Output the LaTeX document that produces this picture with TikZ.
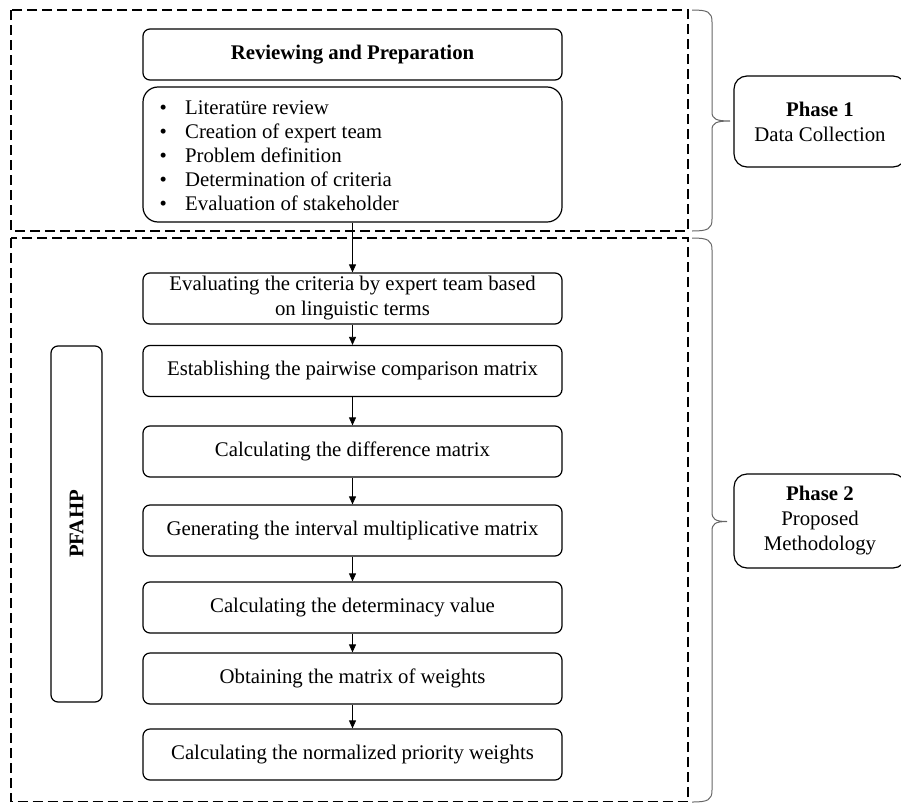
\documentclass[tikz,border=0pt]{standalone}
\usepackage{fontspec}
\setmainfont{Liberation Serif}
\usetikzlibrary{arrows.meta}
\begin{document}
\begin{tikzpicture}[x=1pt,y=-1pt, font=\fontsize{20.8}{25}\selectfont,
  box/.style={draw, line width=1.2pt, rounded corners=7pt, minimum width=419pt, minimum height=51pt, inner sep=0pt, align=center},
  phasebox/.style={draw, line width=1.2pt, rounded corners=13pt, minimum width=172pt, inner sep=0pt, align=center},
  dashbox/.style={draw, line width=1.3pt, dash pattern=on 10pt off 5pt},
  bracepath/.style={draw=black!60, line width=1pt},
  arr/.style={-{Triangle[length=8pt,width=7pt]}, line width=0.8pt}]
\useasboundingbox (0,0) rectangle (901,803);
% dashed phase frames
\draw[dashbox] (11,10) rectangle (688,231);
\draw[dashbox] (11,238) rectangle (688,801.5);
% nodes
\node[box, font=\fontsize{20.8}{25}\selectfont\bfseries] (rp) at (352.5,54.5) {Reviewing and Preparation};
\node[box, rounded corners=15pt, minimum height=135pt] (bl) at (352.5,154.5) {};
\node[anchor=north west, align=left, inner sep=0pt, font=\fontsize{20.8}{23.8}\selectfont] (bltext) at (159.5,101)
  {\makebox[25.5pt][l]{\textbullet}Literatüre review\\
   \makebox[25.5pt][l]{\textbullet}Creation of expert team\\
   \makebox[25.5pt][l]{\textbullet}Problem definition\\
   \makebox[25.5pt][l]{\textbullet}Determination of criteria\\
   \makebox[25.5pt][l]{\textbullet}Evaluation of stakeholder};
\node[box] (s1) at (352.5,298.5) {Evaluating the criteria by expert team based\\on linguistic terms};
\node[box] (s2) at (352.5,371) {Establishing the pairwise comparison matrix};
\node[box] (s3) at (352.5,451.5) {Calculating the difference matrix};
\node[box] (s4) at (352.5,530.5) {Generating the interval multiplicative matrix};
\node[box] (s5) at (352.5,607.5) {Calculating the determinacy value};
\node[box] (s6) at (352.5,678.5) {Obtaining the matrix of weights};
\node[box] (s7) at (352.5,754.5) {Calculating the normalized priority weights};
\node[draw, line width=1.2pt, rounded corners=7pt, rotate=90, minimum width=356pt, minimum height=51pt, inner sep=0pt, font=\fontsize{20.8}{25}\selectfont\bfseries] (pf) at (76.5,524) {PFAHP};
% arrows
\draw[arr] (bl.south) -- (s1.north);
\draw[arr] (s1) -- (s2);
\draw[arr] (s2) -- (s3);
\draw[arr] (s3) -- (s4);
\draw[arr] (s4) -- (s5);
\draw[arr] (s5) -- (s6);
\draw[arr] (s6) -- (s7);
% braces
\draw[bracepath] (692,10) .. controls (708,10) and (712,12) .. (712,22) -- (712,112)
  .. controls (712,119) and (716,121) .. (730,121)
  .. controls (716,121) and (712,123) .. (712,130) -- (712,219)
  .. controls (712,229) and (708,231) .. (692,231);
\draw[bracepath] (692,238) .. controls (708,238) and (712,240) .. (712,250) -- (712,512)
  .. controls (712,519) and (715,521.5) .. (727,521.5)
  .. controls (715,521.5) and (712,524) .. (712,531) -- (712,790)
  .. controls (712,800) and (708,802) .. (692,802);
% phase boxes
\node[phasebox, minimum height=91pt] (p1) at (820,121.5) {\textbf{Phase 1}\\Data Collection};
\node[phasebox, minimum height=94pt] (p2) at (820,521) {\textbf{Phase 2}\\Proposed\\Methodology};
\end{tikzpicture}
\end{document}
